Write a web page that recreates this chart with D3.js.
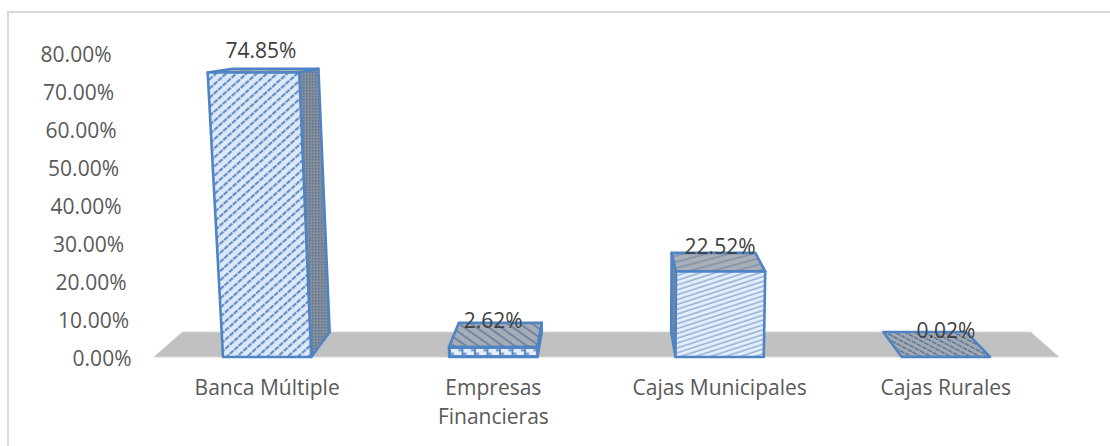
<!DOCTYPE html>
<html><head><meta charset="utf-8">
<style>html,body{margin:0;padding:0;background:#fff}svg{display:block}text{font-family:"Open Sans",sans-serif;fill:#595959}</style>
<script src="https://cdn.jsdelivr.net/npm/d3@7/dist/d3.min.js"></script></head><body>
<script>
const categories = [["Banca Múltiple"],["Empresas","Financieras"],["Cajas Municipales"],["Cajas Rurales"]];
const values = [74.85, 2.62, 22.52, 0.02];
const valueLabels = ["74.85%","2.62%","22.52%","0.02%"];
const ticks = [0,10,20,30,40,50,60,70,80];
const frontPatterns = ["pUp","pBrick","pShallow","pUp"];
const topPatterns = ["pTopUp","pTopDown","pTopShallow","pTopDense"];

const W=1110,H=446;
const svg=d3.select("body").append("svg").attr("width",W).attr("height",H);
const defs=svg.append("defs");
const BLUE="#4f84c4";
function pat(id,w,h,bg,tf,draw){
  const p=defs.append("pattern").attr("id",id).attr("patternUnits","userSpaceOnUse").attr("width",w).attr("height",h);
  if(tf) p.attr("patternTransform",tf);
  p.append("rect").attr("width",w).attr("height",h).attr("fill",bg);
  draw(p);
}
const line=(p,x1,y1,x2,y2,c,sw,dash)=>{const l=p.append("line").attr("x1",x1).attr("y1",y1).attr("x2",x2).attr("y2",y2).attr("stroke",c).attr("stroke-width",sw);if(dash)l.attr("stroke-dasharray",dash);};
pat("pUp",6,6.8,"#dfe9f6","rotate(-42)",p=>line(p,0,2,6,2,"#5f8fca",2.2,"5 1"));
pat("pShallow",10,4.6,"#e4edf8","rotate(-18)",p=>line(p,0,2,10,2,"#7aa3d4",1.2));
pat("pBrick",12.5,10,"#5b8ac4","translate(0,7)",p=>{
  p.append("rect").attr("x",1).attr("y",2).attr("width",10.5).attr("height",6).attr("fill","#e4edf8");
  p.append("rect").attr("x",1).attr("y",5.5).attr("width",3).attr("height",2.5).attr("fill","#7aa3d4");
  p.append("rect").attr("x",8.5).attr("y",2).attr("width",3).attr("height",2.5).attr("fill","#7aa3d4");
});
pat("pSide",3,3,"#868d99",null,p=>p.append("rect").attr("width",1.5).attr("height",1.5).attr("fill","#56789f"));
pat("pTopUp",7,5,"#a9afb8","rotate(-10)",p=>line(p,0,2,7,2,"#8592a5",1.4));
pat("pTopDown",9,7,"#a7adb6","rotate(35)",p=>line(p,0,2,9,2,"#5a7599",1.4));
pat("pTopShallow",9,6,"#a9afb8","rotate(-15)",p=>line(p,0,2,9,2,"#7d8da3",1.4));
pat("pTopDense",6,4.6,"#a3aab4","rotate(28)",p=>line(p,0,2,6,2,"#56708f",1.3,"4 1"));

// frame: top and left edges only, running off the picture
svg.append("path").attr("d","M1110,12H8V446").attr("fill","none").attr("stroke","#d9d9d9").attr("stroke-width",2);

const y=d3.scaleLinear().domain([0,80]).range([357,53]);
const x=d3.scaleBand().domain(d3.range(categories.length)).range([154,1059]).paddingInner(0.61).paddingOuter(0.305);
// 3-D projection: base x, value, depth 0 (front) .. 1 (back)
function project(bx,v,d){
  const px=bx+(bx-632)*0.0005*v;
  const py=y(v);
  return [px+(606-px)*0.0625*d, py+(22-py)*0.0745*d];
}
const poly=pts=>pts.map(p=>p.join(",")).join(" ");
// floor
const [fx0,fx1]=x.range();
svg.append("polygon").attr("points",poly([project(fx0,0,0),project(fx0,0,1),project(fx1,0,1),project(fx1,0,0)])).attr("fill","#c1c1c1").attr("stroke","#d6d6d6").attr("stroke-width",1);

// bars
const bars=svg.selectAll("g.bar").data(values).join("g").attr("class","bar");
bars.each(function(v,i){
  const g=d3.select(this), l=x(i), r=l+x.bandwidth();
  const face=(pts,fill)=>g.append("polygon").attr("points",poly(pts)).attr("fill",fill).attr("stroke",BLUE).attr("stroke-width",2.6).attr("stroke-linejoin","round");
  const side = (l+r)/2<606 ? r : l;
  if(v>1) face([project(side,0,0),project(side,v,0),project(side,v,1),project(side,0,1)],"url(#pSide)");
  face([project(l,v,0),project(l,v,1),project(r,v,1),project(r,v,0)],`url(#${topPatterns[i]})`);
  if(v>1) face([project(l,0,0),project(l,v,0),project(r,v,0),project(r,0,0)],`url(#${frontPatterns[i]})`);
});

// axis: labels lean with the chart's perspective
const axis=svg.append("g").attr("transform","translate(131.5,2)").call(d3.axisLeft(y).tickValues(ticks).tickFormat(d=>d3.format(".2f")(d)+"%").tickSize(0).tickPadding(0));
axis.select(".domain").remove();
axis.selectAll("text").style("font-size","21px").style("font-family",'"Open Sans",sans-serif').style("fill","#595959").attr("x",d=>-0.25*d);

// value labels
svg.selectAll("text.val").data(values).join("text").attr("class","val")
  .attr("x",(v,i)=>{const c=x(i)+x.bandwidth()/2;return c+(c-632)*0.000225*v;})
  .attr("y",v=>{const py=y(v);return py+(22-py)*0.014-14.3;})
  .attr("text-anchor","middle").style("font-size","21px").style("fill","#404040").text((v,i)=>valueLabels[i]);

// category labels
const cat=svg.selectAll("text.cat").data(categories).join("text").attr("class","cat")
  .attr("text-anchor","middle").attr("transform",(c,i)=>`translate(${x(i)+x.bandwidth()/2},395)`).style("font-size","21px");
cat.selectAll("tspan").data(c=>c).join("tspan").attr("x",0).attr("dy",(d,i)=>i?29:0).text(d=>d);
</script></body></html>
